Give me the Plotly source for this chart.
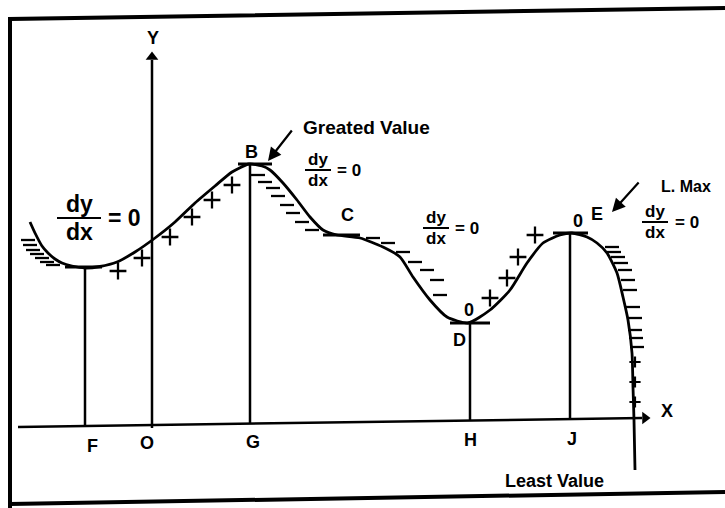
import plotly.graph_objects as go

# Diagram coordinates (pixel-like units, y grows downward)
curve_x = [30, 35, 42, 48, 55, 62, 72, 85, 100, 117, 135, 155, 175, 195, 215, 232, 249, 262, 270, 283, 297, 310, 323, 337, 360, 383, 400, 413, 430, 447, 468, 490, 510, 527, 543, 560, 572, 587, 597, 607, 617, 623, 628, 632, 633, 634, 635]
curve_y = [222, 233, 246, 253, 259, 263, 266, 268, 266.5, 262, 252, 238, 222, 203, 186, 172, 164, 166, 170, 183, 200, 217, 230, 235, 238, 247, 257, 277, 300, 317, 323, 310, 290, 263, 243, 235, 233, 237, 243, 253, 273, 297, 320, 353, 387, 420, 470]

plus_x = [118, 142, 170, 192, 212, 232, 490, 507, 518, 535]
plus_y = [271, 258, 237, 217, 200, 185, 298, 278, 257, 235]

small_plus_x = [635, 635, 635]
small_plus_y = [362, 382, 402]

minus_x = [28, 30, 33, 37, 42, 47, 53, 258, 265, 273, 278, 287, 293, 302, 312, 373, 388, 403, 415, 427, 437, 440, 612, 614, 618, 621, 625, 628, 630, 633, 635, 635, 636, 637]
minus_y = [240, 245, 250, 254, 258, 262, 265, 175, 182, 188, 196, 205, 213, 222, 230, 238, 243, 252, 262, 270, 280, 295, 247, 252, 257, 263, 270, 280, 290, 307, 318, 330, 338, 347]

# vertical ordinates: foot x, top y, bottom y
ord_x = [85, 250, 470, 570]
ord_top = [268, 164, 323, 233]
ord_bot = [425, 423, 420, 419]

# tangents at stationary points
tan_x0 = [65, 238, 323, 450, 553]
tan_x1 = [102, 272, 360, 490, 588]
tan_y = [267, 164, 235, 323, 233]

foot_labels = ["F", "O", "G", "H", "J"]
foot_x = [92, 147, 253, 470, 572]
foot_y = [446, 443, 442, 440, 439]

pt_labels = ["B", "C", "D", "E", "0", "0", "Y", "X"]
pt_x = [251, 347, 459, 597, 469, 578, 153, 667]
pt_y = [152, 215, 340, 214, 310, 221, 38, 411]

# dy/dx = 0 fractions: centre x, bar y, bar half width, font size
frac_x = [79, 318, 436, 655]
frac_y = [218, 170, 228, 222]
frac_w = [22, 13, 13, 13]
frac_fs = [23, 17, 17, 17]
eq_x = [124, 349, 467, 687]

FONT = "Liberation Sans Narrow, Liberation Sans, Arial, sans-serif"

fig = go.Figure()

# frame
fig.add_trace(go.Scatter(x=[10, 10, 725], y=[508, 19, 8], mode="lines",
                         line=dict(color="black", width=4), hoverinfo="skip"))
fig.add_trace(go.Scatter(x=[10, 725], y=[504, 492], mode="lines",
                         line=dict(color="black", width=4), hoverinfo="skip"))

# axes
fig.add_trace(go.Scatter(x=[18, 642], y=[427, 418], mode="lines",
                         line=dict(color="black", width=2.5), hoverinfo="skip"))
fig.add_trace(go.Scatter(x=[152, 152], y=[428, 60], mode="lines",
                         line=dict(color="black", width=2.5), hoverinfo="skip"))
fig.add_trace(go.Scatter(x=[152, 645], y=[57, 418], mode="markers",
                         marker=dict(symbol=["triangle-up", "triangle-right"], size=11, color="black"),
                         hoverinfo="skip"))

# ordinates
for xv, t, b in zip(ord_x, ord_top, ord_bot):
    fig.add_trace(go.Scatter(x=[xv, xv], y=[t, b], mode="lines",
                             line=dict(color="black", width=2.5), hoverinfo="skip"))

# tangents
for a, b, yv in zip(tan_x0, tan_x1, tan_y):
    fig.add_trace(go.Scatter(x=[a, b], y=[yv, yv], mode="lines",
                             line=dict(color="black", width=2.8), hoverinfo="skip"))

# curve
fig.add_trace(go.Scatter(x=curve_x, y=curve_y, mode="lines",
                         line=dict(color="black", width=2.8, shape="spline", smoothing=0.6),
                         hoverinfo="skip"))

# signs
fig.add_trace(go.Scatter(x=plus_x, y=plus_y, mode="markers",
                         marker=dict(symbol="cross-thin", size=12, line=dict(color="black", width=2.3)),
                         hoverinfo="skip"))
fig.add_trace(go.Scatter(x=small_plus_x, y=small_plus_y, mode="markers",
                         marker=dict(symbol="cross-thin", size=8, line=dict(color="black", width=2.2)),
                         hoverinfo="skip"))
fig.add_trace(go.Scatter(x=minus_x, y=minus_y, mode="markers",
                         marker=dict(symbol="line-ew", size=10, line=dict(color="black", width=2.3)),
                         hoverinfo="skip"))

# fraction bars
for cx, cy, w in zip(frac_x, frac_y, frac_w):
    fig.add_trace(go.Scatter(x=[cx - w, cx + w], y=[cy, cy], mode="lines",
                             line=dict(color="black", width=2), hoverinfo="skip"))

ann = []
for t, xv, yv in zip(foot_labels, foot_x, foot_y):
    ann.append(dict(x=xv, y=yv, text="<b>%s</b>" % t, showarrow=False, font=dict(size=18)))
for t, xv, yv in zip(pt_labels, pt_x, pt_y):
    ann.append(dict(x=xv, y=yv, text="<b>%s</b>" % t, showarrow=False, font=dict(size=18)))
for cx, cy, fs, ex in zip(frac_x, frac_y, frac_fs, eq_x):
    off = fs * 0.6
    ann.append(dict(x=cx, y=cy - off, text="<b>dy</b>", showarrow=False, font=dict(size=fs)))
    ann.append(dict(x=cx, y=cy + off, text="<b>dx</b>", showarrow=False, font=dict(size=fs)))
    ann.append(dict(x=ex, y=cy, text="<b>= 0</b>", showarrow=False, font=dict(size=fs)))

ann.append(dict(x=366, y=127, text="<b>Greated Value</b>", showarrow=False, font=dict(size=19)))
ann.append(dict(x=686, y=186, text="<b>L. Max</b>", showarrow=False, font=dict(size=16)))
ann.append(dict(x=554, y=481, text="<b>Least Value</b>", showarrow=False, font=dict(size=18)))

# arrows
ann.append(dict(x=268, y=161, ax=293, ay=129, axref="x", ayref="y", xref="x", yref="y",
                text="", showarrow=True, arrowhead=2, arrowsize=1.2, arrowwidth=2.2, arrowcolor="black"))
ann.append(dict(x=612, y=212, ax=640, ay=181, axref="x", ayref="y", xref="x", yref="y",
                text="", showarrow=True, arrowhead=2, arrowsize=1.2, arrowwidth=2.2, arrowcolor="black"))

fig.update_layout(
    width=725, height=508,
    margin=dict(l=0, r=0, t=0, b=0),
    paper_bgcolor="white", plot_bgcolor="white",
    showlegend=False,
    font=dict(family=FONT, color="black"),
    annotations=ann,
    xaxis=dict(range=[0, 725], visible=False, fixedrange=True),
    yaxis=dict(range=[508, 0], visible=False, fixedrange=True),
)

fig.write_html("out.html", config={"displayModeBar": False},
               post_script="document.body.style.margin='0';document.body.style.overflow='hidden';")
